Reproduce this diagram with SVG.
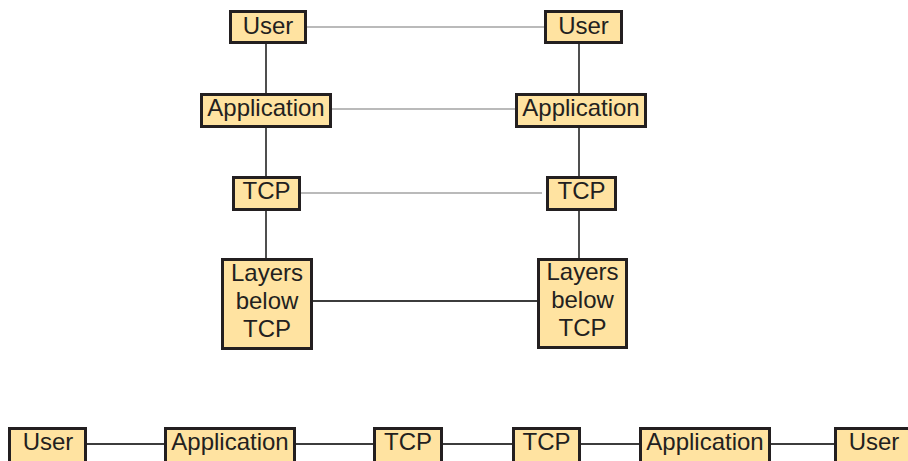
<svg xmlns="http://www.w3.org/2000/svg" width="908" height="461" viewBox="0 0 908 461">
  <style>
    .box { fill: #ffe3a1; stroke: #231f20; stroke-width: 3; }
    .lbl { font-family: "Liberation Sans", Arial, sans-serif; font-size: 24px; fill: #231f20; text-anchor: middle; }
    .peer { stroke: #a3a3a3; stroke-width: 1.6; fill: none; }
    .link { stroke: #3c3c3c; stroke-width: 1.8; fill: none; }
  </style>
  <rect width="908" height="461" fill="#ffffff"/>

  <!-- connectors -->
  <g id="connectors">
    <!-- stack A -->
    <line class="link" x1="266" y1="44" x2="266" y2="93"/>
    <line class="link" x1="266" y1="128" x2="266" y2="176"/>
    <line class="link" x1="266" y1="211" x2="266" y2="258"/>
    <!-- stack B -->
    <line class="link" x1="579" y1="44" x2="579" y2="93"/>
    <line class="link" x1="579" y1="128" x2="579" y2="176"/>
    <line class="link" x1="579" y1="211" x2="579" y2="258"/>
    <!-- peer-to-peer -->
    <line class="peer" x1="307" y1="27" x2="544" y2="27"/>
    <line class="peer" x1="332" y1="109" x2="515" y2="109"/>
    <line class="peer" x1="301" y1="193" x2="542" y2="193"/>
    <line class="link" x1="313" y1="301" x2="537" y2="301"/>
    <!-- flattened chain -->
    <line class="link" x1="87" y1="444" x2="164" y2="444"/>
    <line class="link" x1="296" y1="444" x2="373" y2="444"/>
    <line class="link" x1="443" y1="444" x2="512" y2="444"/>
    <line class="link" x1="581" y1="444" x2="639" y2="444"/>
    <line class="link" x1="771" y1="444" x2="834" y2="444"/>
  </g>

  <!-- stack A -->
  <g id="userA">
    <rect class="box" x="230.5" y="11.5" width="75" height="31"/>
    <text class="lbl" x="268" y="34">User</text>
  </g>
  <g id="appA">
    <rect class="box" x="201.5" y="94.5" width="129" height="32"/>
    <text class="lbl" x="266" y="116">Application</text>
  </g>
  <g id="tcpA">
    <rect class="box" x="233.5" y="177.5" width="66" height="32"/>
    <text class="lbl" x="266.5" y="198.5">TCP</text>
  </g>
  <g id="lowerA">
    <rect class="box" x="222.5" y="259.5" width="89" height="89"/>
    <text class="lbl" x="267" y="281">Layers</text>
    <text class="lbl" x="267" y="309">below</text>
    <text class="lbl" x="267" y="337">TCP</text>
  </g>

  <!-- stack B -->
  <g id="userB">
    <rect class="box" x="545.5" y="11.5" width="76" height="31"/>
    <text class="lbl" x="583.5" y="34">User</text>
  </g>
  <g id="appB">
    <rect class="box" x="516.5" y="94.5" width="129" height="32"/>
    <text class="lbl" x="581" y="116">Application</text>
  </g>
  <g id="tcpB">
    <rect class="box" x="547.5" y="177.5" width="68" height="32"/>
    <text class="lbl" x="581.5" y="198.5">TCP</text>
  </g>
  <g id="lowerB">
    <rect class="box" x="538.5" y="259.5" width="88" height="88"/>
    <text class="lbl" x="582.5" y="280">Layers</text>
    <text class="lbl" x="582.5" y="308">below</text>
    <text class="lbl" x="582.5" y="336">TCP</text>
  </g>

  <!-- flattened chain -->
  <g id="chainUser1">
    <rect class="box" x="9.5" y="428.5" width="76" height="40"/>
    <text class="lbl" x="48" y="450">User</text>
  </g>
  <g id="chainApp1">
    <rect class="box" x="165.5" y="428.5" width="129" height="40"/>
    <text class="lbl" x="230" y="450">Application</text>
  </g>
  <g id="chainTcp1">
    <rect class="box" x="374.5" y="428.5" width="67" height="40"/>
    <text class="lbl" x="408" y="450">TCP</text>
  </g>
  <g id="chainTcp2">
    <rect class="box" x="513.5" y="428.5" width="66" height="40"/>
    <text class="lbl" x="546.5" y="450">TCP</text>
  </g>
  <g id="chainApp2">
    <rect class="box" x="640.5" y="428.5" width="129" height="40"/>
    <text class="lbl" x="705" y="450">Application</text>
  </g>
  <g id="chainUser2">
    <rect class="box" x="835.5" y="428.5" width="77" height="40"/>
    <text class="lbl" x="874" y="450">User</text>
  </g>
</svg>
